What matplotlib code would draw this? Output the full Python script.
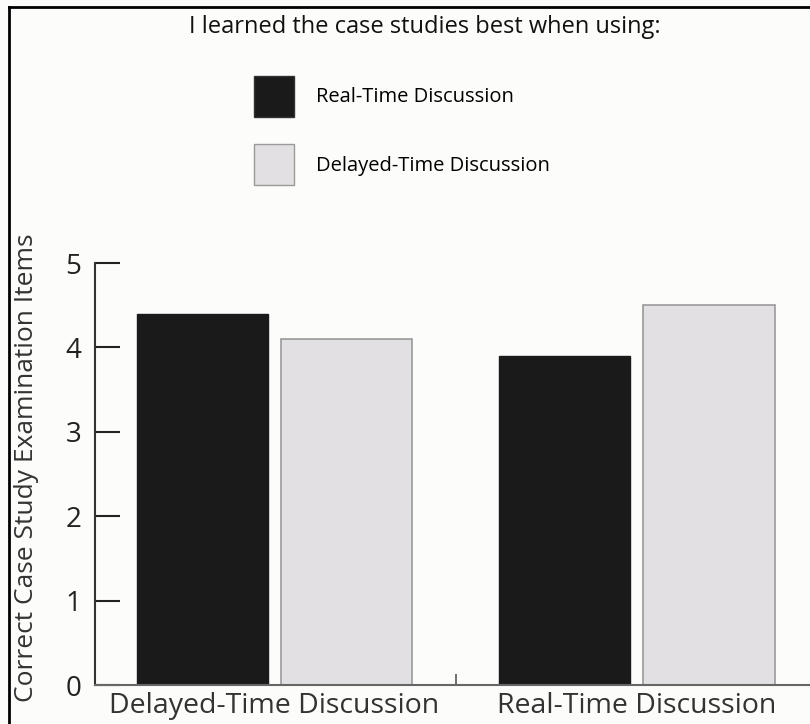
# bar chart: case study items by discussion type

import numpy as np
import matplotlib.pyplot as plt
from matplotlib.patches import Patch
from matplotlib.lines import Line2D

plt.rcdefaults()
plt.rcParams['font.family'] = ['Open Sans', 'DejaVu Sans']

groups = ['Delayed-Time Discussion', 'Real-Time Discussion']
real_time = [4.4, 3.9]
delayed_time = [4.1, 4.5]
series_names = ['Real-Time Discussion', 'Delayed-Time Discussion']
yticks = [0, 1, 2, 3, 4, 5]

bg = '#fcfcfa'
dark = '#1a1a1a'
light = '#e2e0e2'

fig = plt.figure(figsize=(8.1, 7.24), dpi=100, facecolor=bg)
ax = fig.add_axes([95/810, 1 - 685/724, 1 - 95/810, (685 - 263)/724])
ax.set_facecolor(bg)

x = np.arange(len(groups))
width = 0.362
ax.bar(x - 0.2, real_time, width, color=dark, edgecolor=dark, linewidth=1)
ax.bar(x + 0.2, delayed_time, width, color=light, edgecolor='#9a9a9a', linewidth=1.2)

ax.set_xlim(-0.496, 1.479)
ax.set_ylim(0, 5)
ax.set_yticks(yticks)
ax.set_xticks(x)
ax.set_xticklabels(groups, fontsize=20.5)
ax.set_xticks([0.5], minor=True)
ax.tick_params(axis='x', which='major', length=0, pad=5, colors='#333333')
ax.tick_params(axis='x', which='minor', direction='in', length=8, width=1.2, color='#555555')
ax.tick_params(axis='y', direction='in', length=18, width=1.5, pad=10,
               labelsize=20, colors='#222222')
for side in ['top', 'right']:
    ax.spines[side].set_visible(False)
ax.spines['left'].set_color('#333333')
ax.spines['left'].set_linewidth(1.5)
ax.spines['bottom'].set_color('#666666')
ax.spines['bottom'].set_linewidth(1.5)

fig.text(27/810, 1 - 468/724, 'Correct Case Study Examination Items', rotation=90,
         ha='center', va='center', fontsize=19, color='#333333')

fig.text(425/810, 1 - 27/724, 'I learned the case studies best when using:',
         ha='center', va='center', fontsize=17, color='#111111')

handles = [Patch(facecolor=dark, edgecolor='#333333'),
           Patch(facecolor=light, edgecolor='#9a9a9a')]
fig.legend(handles, series_names, loc='upper left',
           bbox_to_anchor=(254/810, 1 - 76/724), frameon=False,
           prop={'size': 14.5},
           handlelength=1.99, handleheight=2.72, handletextpad=1.1,
           labelspacing=1.38, borderpad=0, borderaxespad=0)

# frame lines (top and left edges of the cropped figure)
fig.add_artist(Line2D([9/810, 1], [1 - 7/724, 1 - 7/724], color='black', lw=2))
fig.add_artist(Line2D([9/810, 9/810], [0, 1 - 7/724], color='black', lw=2))

fig.savefig('out.png', dpi=100, facecolor=bg)
